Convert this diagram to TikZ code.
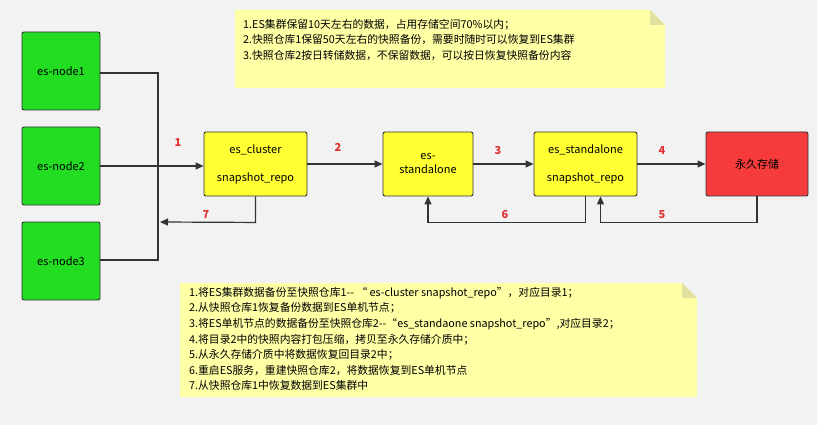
\documentclass[tikz,border=0pt]{standalone}
\usepackage{fontspec}
\setmainfont{Noto Sans CJK SC}
\usetikzlibrary{arrows.meta}
\definecolor{bg}{HTML}{F2F2F2}
\definecolor{gr}{HTML}{22DD22}
\definecolor{yl}{HTML}{FFFF33}
\definecolor{rd}{HTML}{F53B3B}
\definecolor{note}{HTML}{FFFFA6}
\definecolor{fold}{HTML}{E0E0A0}
\definecolor{lab}{HTML}{E03030}
\begin{document}
\begin{tikzpicture}[x=1pt,y=-1pt,
  box/.style={draw=black!80,line width=0.9pt,rounded corners=2pt,minimum width=#1,minimum height=64pt,inner sep=0pt,align=center,font=\fontsize{11}{14}\selectfont},
  box/.default=103pt,
  ln/.style={draw=black!80,line width=1.2pt},
  ar/.style={ln,-{Triangle[length=8pt,width=7pt]}},
  lbl/.style={text=lab,font=\fontsize{11}{12}\selectfont\bfseries},
  notetext/.style={anchor=north west,align=left,font=\fontsize{10.8}{15.6}\selectfont,inner sep=0pt}]
\fill[bg] (0,0) rectangle (817,425);
\useasboundingbox (0,0) rectangle (817,425);
% notes
\fill[note] (235,10) -- (650,10) -- (665,25) -- (665,88) -- (235,88) -- cycle;
\fill[fold] (650,10) -- (665,25) -- (650,25) -- cycle;
\node[notetext] (n1) at (243,19) {1.ES集群保留10天左右的数据，占用存储空间70\%以内；\\2.快照仓库1保留50天左右的快照备份，需要时随时可以恢复到ES集群\\3.快照仓库2按日转储数据，不保留数据，可以按日恢复快照备份内容};
\fill[note] (180,283) -- (682,283) -- (697,298) -- (697,397) -- (180,397) -- cycle;
\fill[fold] (682,283) -- (697,298) -- (682,298) -- cycle;
\node[notetext] (n2) at (189,287) {1.将ES集群数据备份至快照仓库1{-}{-} “ es-cluster snapshot\_repo”，对应目录1；\\2.从快照仓库1恢复备份数据到ES单机节点；\\3.将ES单机节点的数据备份至快照仓库2{-}{-}“es\_standaone snapshot\_repo”,对应目录2；\\4.将目录2中的快照内容打包压缩，拷贝至永久存储介质中；\\5.从永久存储介质中将数据恢复回目录2中；\\6.重启ES服务，重建快照仓库2，将数据恢复到ES单机节点\\7.从快照仓库1中恢复数据到ES集群中};
% nodes
\node[box=78pt,minimum height=78pt,fill=gr] (e1) at (61,71) {es-node1};
\node[box=78pt,minimum height=78pt,fill=gr] (e2) at (61,166) {es-node2};
\node[box=78pt,minimum height=78pt,fill=gr] (e3) at (61,261) {es-node3};
\node[box,fill=yl] (c) at (255.5,164) {es\_cluster\\[14pt]snapshot\_repo};
\node[box=90pt,fill=yl] (s) at (428,164) {es-\\standalone};
\node[box,fill=yl] (r) at (585.5,164) {es\_standalone\\[14pt]snapshot\_repo};
\node[box=102pt,fill=rd] (p) at (757,164) {永久存储};
\coordinate (top) at (158,73);
\coordinate (bot) at (158,260);
\coordinate (j) at (158,166);
\draw[ln] (e1.east|-top) -- (top) -- (bot) -- (e3.east|-bot);
\draw[ln] (e2.east) -- (j);
\draw[ar] (j) -- (c.west|-j);
\draw[ar] (c.east) -- (s.west);
\draw[ar] (s.east) -- (r.west);
\draw[ar] (r.east) -- (p.west);
\draw[ar] (c.south) -- ++(0,26) -- (160,222);
\draw[ar] (r.south) -- ++(0,26) -| (s.south);
\draw[ar] (p.south) -- ++(0,26) -| ([xshift=15pt]r.south);
\node[lbl] (l1) at (178,143) {1};
\node[lbl] (l2) at (338,147) {2};
\node[lbl] (l3) at (498,151) {3};
\node[lbl] (l4) at (662,151) {4};
\node[lbl] (l5) at (662,215) {5};
\node[lbl] (l6) at (505,215) {6};
\node[lbl] (l7) at (206,215) {7};
\end{tikzpicture}
\end{document}
